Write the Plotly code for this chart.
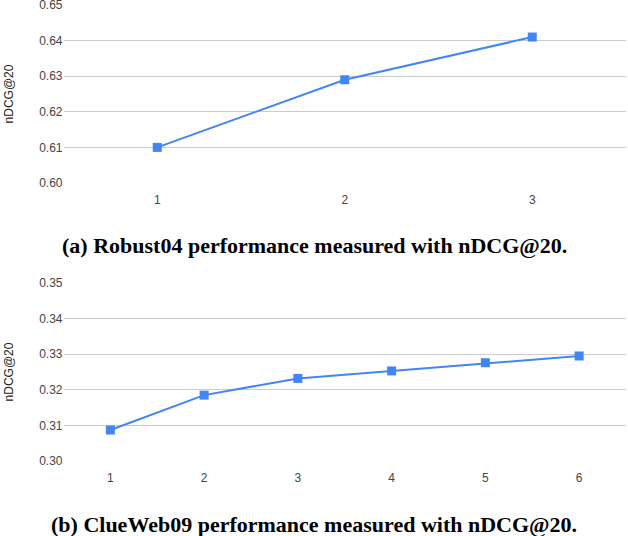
import plotly.graph_objects as go

# Data
robust_x = [1, 2, 3]
robust_ndcg = [0.610, 0.629, 0.641]
clueweb_x = [1, 2, 3, 4, 5, 6]
clueweb_ndcg = [0.3087, 0.3185, 0.3232, 0.3253, 0.3276, 0.3295]
robust_yticks = [0.60, 0.61, 0.62, 0.63, 0.64, 0.65]
clueweb_yticks = [0.30, 0.31, 0.32, 0.33, 0.34, 0.35]
title_a = "(a) Robust04 performance measured with nDCG@20."
title_b = "(b) ClueWeb09 performance measured with nDCG@20."
y_label = "nDCG@20"

W, H = 628, 536
blue = "#4285F4"

fig = go.Figure()
fig.add_trace(go.Scatter(x=robust_x, y=robust_ndcg, mode="lines+markers",
                         line=dict(color=blue, width=2),
                         marker=dict(symbol="square", size=9, color=blue),
                         xaxis="x", yaxis="y", showlegend=False, cliponaxis=False))
fig.add_trace(go.Scatter(x=clueweb_x, y=clueweb_ndcg, mode="lines+markers",
                         line=dict(color=blue, width=2),
                         marker=dict(symbol="square", size=9, color=blue),
                         xaxis="x2", yaxis="y2", showlegend=False, cliponaxis=False))

xd = [63.5 / W, 626 / W]
tickfont = dict(family="Liberation Sans, Arial", size=12, color="#444444")

def ydom(top_px, bot_px):
    return [1 - bot_px / H, 1 - top_px / H]

common_x = dict(showgrid=False, zeroline=False, showline=False, ticks="",
                tickfont=tickfont, tickmode="array", automargin=False,
                ticklabelstandoff=8, ticklabeloverflow="allow")
common_y = dict(showgrid=True, gridcolor="#cccccc", gridwidth=1, zeroline=False,
                showline=False, ticks="", tickfont=tickfont, tickformat=".2f",
                tickmode="array", automargin=False, ticklabeloverflow="allow",
                title=dict(text=y_label, font=dict(family="Liberation Sans, Arial", size=12, color="#222222"), standoff=22))

fig.update_layout(
    width=W, height=H,
    margin=dict(l=0, r=0, t=0, b=0),
    paper_bgcolor="white", plot_bgcolor="white",
    xaxis=dict(domain=xd, range=[0.5, 3.5], tickvals=robust_x, anchor="y", **common_x),
    yaxis=dict(domain=ydom(5, 183), range=[0.60, 0.6500001], tickvals=robust_yticks, anchor="x", **common_y),
    xaxis2=dict(domain=xd, range=[0.5, 6.5], tickvals=clueweb_x, anchor="y2", **common_x),
    yaxis2=dict(domain=ydom(283, 461), range=[0.30, 0.3500001], tickvals=clueweb_yticks, anchor="x2", **common_y),
    annotations=[
        dict(text="<b>" + title_a + "</b>", x=0.5, y=1 - 245 / H, xref="paper", yref="paper",
             showarrow=False, xanchor="center", yanchor="middle",
             font=dict(family="Liberation Serif, Times New Roman", size=22, color="black")),
        dict(text="<b>" + title_b + "</b>", x=0.5, y=1 - 524 / H, xref="paper", yref="paper",
             showarrow=False, xanchor="center", yanchor="middle",
             font=dict(family="Liberation Serif, Times New Roman", size=22, color="black")),
    ],
)

fig.write_html("out.html", config={"displayModeBar": False},
               post_script="document.body.style.margin='0';document.body.style.overflow='hidden';")
